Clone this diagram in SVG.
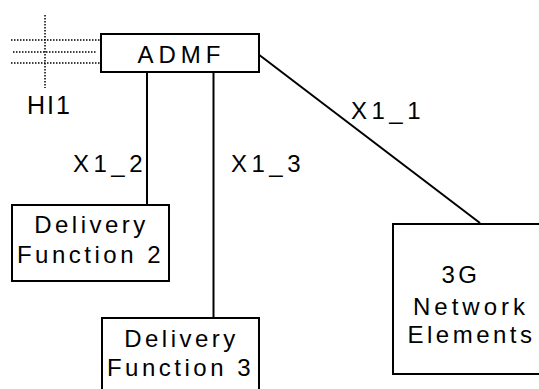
<svg xmlns="http://www.w3.org/2000/svg" width="539" height="389" viewBox="0 0 539 389">
<style>
.box{fill:#fff;stroke:#000;stroke-width:2}
.ln{stroke:#000;stroke-width:2;fill:none}
.dot{stroke:#000;stroke-width:1.5;stroke-dasharray:1.5 1.5;fill:none}
text{font-family:"Liberation Sans",Arial,sans-serif;font-size:24px;fill:#000;letter-spacing:3.5px}
.c{text-anchor:middle}
.lbl{letter-spacing:4.5px}
</style>
<rect width="539" height="389" fill="#fff"/>
<g id="connectors">
<line class="ln" x1="147" y1="72" x2="147" y2="205"/>
<line class="ln" x1="213.5" y1="72" x2="213.5" y2="318"/>
<line class="ln" x1="258" y1="54" x2="480" y2="223" stroke-width="1.7"/>
<text class="lbl" x="73" y="172">X1_2</text>
<text class="lbl" x="231" y="172">X1_3</text>
<text class="lbl" x="351" y="119">X1_1</text>
</g>
<g id="HI1">
<line class="dot" x1="11" y1="40" x2="100" y2="40"/>
<line class="dot" x1="13" y1="52" x2="97" y2="52"/>
<line class="dot" x1="11" y1="63" x2="100" y2="63"/>
<line class="dot" x1="45" y1="15" x2="45" y2="88"/>
<text x="27" y="114" style="font-size:25px;letter-spacing:2px">HI1</text>
</g>
<g id="ADMF">
<rect class="box" x="101" y="34" width="158" height="38"/>
<text class="c" x="181.5" y="63" style="letter-spacing:5px">ADMF</text>
</g>
<g id="DF2">
<rect class="box" x="12" y="205" width="157" height="76"/>
<text class="c" x="91.5" y="233">Delivery</text>
<text class="c" x="90.5" y="263">Function 2</text>
</g>
<g id="DF3">
<rect class="box" x="102" y="318" width="157" height="80"/>
<text class="c" x="181.5" y="347">Delivery</text>
<text class="c" x="180.5" y="376">Function 3</text>
</g>
<g id="NE">
<rect class="box" x="393" y="224" width="160" height="150"/>
<text class="c" x="461" y="283">3G</text>
<text class="c" x="471" y="315" style="letter-spacing:4px">Network</text>
<text class="c" x="471.5" y="343">Elements</text>
</g>
</svg>
